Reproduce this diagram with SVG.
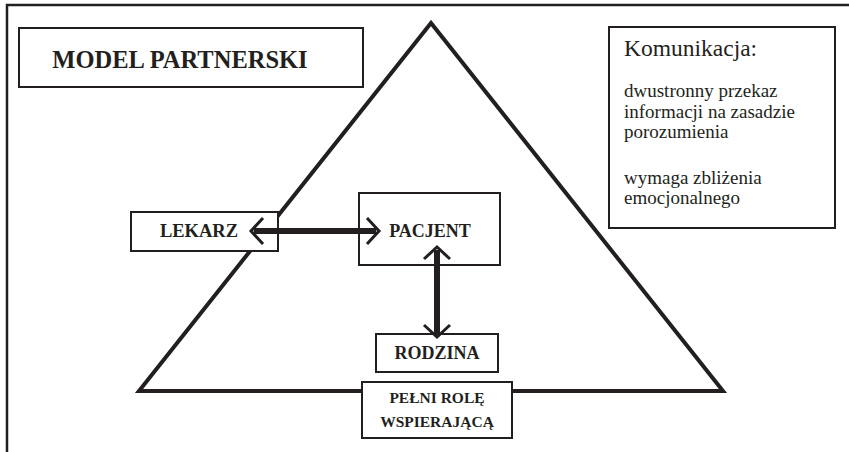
<svg xmlns="http://www.w3.org/2000/svg" width="849" height="452" viewBox="0 0 849 452">
<style>
.box{fill:#fff;stroke:#231f20;stroke-width:2}
.lbl{font-family:"Liberation Serif","Times New Roman",serif;font-weight:bold;fill:#231f20;text-anchor:middle}
.txt{font-family:"Liberation Serif","Times New Roman",serif;fill:#231f20}
.shaft{stroke:#231f20;stroke-width:6;fill:none}
</style>
<defs>
<marker id="head" markerUnits="userSpaceOnUse" viewBox="-16 -16 20 32" markerWidth="20" markerHeight="32" refX="-3" refY="0" orient="auto-start-reverse" overflow="visible">
<path d="M-12,-13 L0,0 L-12,13" fill="none" stroke="#231f20" stroke-width="3"/>
</marker>
</defs>
<rect width="849" height="452" fill="#fff"/>
<g id="frame">
<polyline points="7,452 7,5 849,5" fill="none" stroke="#231f20" stroke-width="2.5"/>
</g>
<g id="triangle">
<polygon points="431,23 139,391 723,391" fill="none" stroke="#231f20" stroke-width="4"/>
</g>
<g id="title">
<rect class="box" x="19" y="28" width="344" height="59"/>
<text class="lbl" x="180" y="68" font-size="24.5">MODEL PARTNERSKI</text>
</g>
<g id="komunikacja">
<rect class="box" x="609" y="27" width="226" height="201"/>
<text class="txt" x="624" y="56" font-size="23.5">Komunikacja:</text>
<text class="txt" x="624" y="97" font-size="19">dwustronny przekaz</text>
<text class="txt" x="624" y="118" font-size="19">informacji na zasadzie</text>
<text class="txt" x="624" y="138" font-size="19">porozumienia</text>
<text class="txt" x="624" y="184" font-size="19">wymaga zbliżenia</text>
<text class="txt" x="624" y="204" font-size="19">emocjonalnego</text>
</g>
<g id="lekarz">
<rect class="box" x="131" y="212" width="147" height="39"/>
<text class="lbl" x="199" y="237" font-size="18.5">LEKARZ</text>
</g>
<g id="pacjent">
<rect class="box" x="359" y="193" width="141" height="72"/>
<text class="lbl" x="430" y="237" font-size="18">PACJENT</text>
</g>
<g id="rodzina">
<rect class="box" x="376" y="334" width="122" height="38"/>
<text class="lbl" x="437" y="359" font-size="18">RODZINA</text>
</g>
<g id="rola">
<rect class="box" x="362" y="382" width="150" height="56"/>
<text class="lbl" x="437" y="403" font-size="15.5">PEŁNI ROLĘ</text>
<text class="lbl" x="437" y="427" font-size="15.5">WSPIERAJĄCĄ</text>
</g>
<g id="connectors">
<line class="shaft" x1="254" y1="231" x2="376" y2="231" marker-start="url(#head)" marker-end="url(#head)"/>
<line class="shaft" x1="437" y1="250" x2="437" y2="334" marker-start="url(#head)" marker-end="url(#head)"/>
</g>
</svg>
